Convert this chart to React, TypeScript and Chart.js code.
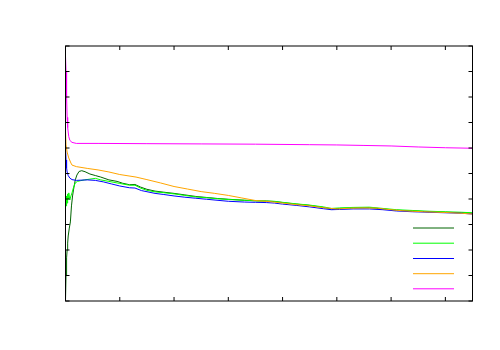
import React, { useEffect, useRef } from "react";
import { Chart, registerables } from "chart.js";

Chart.register(...registerables);

// x ticks and y ticks
const xTicks = [0, 100, 200, 300, 400, 500, 600, 700];
const yTicks = [0, 1, 2, 3, 4, 5, 6, 7, 8, 9, 10];

const darkGreenX = [0, 1, 2, 3, 4, 5, 7, 9, 11, 13, 15, 18, 21, 25, 30, 36, 45, 55, 65, 80, 95, 105, 118, 128, 138, 150, 165, 180, 200, 220, 240, 260, 280, 300, 330, 350, 370, 385, 400, 425, 450, 475, 490, 505, 530, 560, 585, 610, 640, 670, 700, 730, 750];
const darkGreenY = [0.04, 1.02, 1.69, 2.0, 2.27, 2.55, 2.86, 3.1, 3.73, 4.12, 4.39, 4.75, 4.94, 5.08, 5.11, 5.07, 4.98, 4.92, 4.86, 4.75, 4.69, 4.62, 4.56, 4.57, 4.47, 4.38, 4.31, 4.27, 4.22, 4.16, 4.1, 4.06, 4.02, 3.99, 3.95, 3.93, 3.92, 3.9, 3.86, 3.8, 3.75, 3.67, 3.61, 3.63, 3.65, 3.66, 3.61, 3.56, 3.53, 3.5, 3.48, 3.46, 3.44];

const lightGreenX = [0, 1, 2, 3, 4, 5, 6, 8, 10, 12, 15, 18, 22, 28, 35, 45, 55, 65, 80, 100, 118, 128, 138, 150, 165, 180, 200, 220, 240, 260, 280, 300, 330, 350, 370, 385, 400, 425, 450, 475, 490, 505, 530, 560, 585, 610, 640, 670, 700, 730, 750];
const lightGreenY = [3.96, 3.73, 4.12, 3.84, 4.2, 4.0, 4.24, 3.96, 4.12, 4.24, 4.47, 4.63, 4.69, 4.72, 4.75, 4.78, 4.81, 4.75, 4.69, 4.61, 4.54, 4.54, 4.43, 4.34, 4.28, 4.25, 4.2, 4.14, 4.08, 4.05, 4.01, 3.98, 3.95, 3.93, 3.92, 3.91, 3.87, 3.81, 3.76, 3.69, 3.63, 3.65, 3.67, 3.68, 3.63, 3.58, 3.55, 3.52, 3.5, 3.48, 3.46];

const blueX = [0, 1, 2, 3, 5, 8, 12, 20, 40, 55, 70, 85, 100, 118, 128, 140, 165, 180, 200, 220, 240, 260, 300, 330, 350, 370, 385, 400, 425, 450, 475, 490, 505, 530, 560, 585, 610, 640, 670, 700, 730, 750];
const blueY = [6.04, 5.53, 5.22, 5.06, 4.92, 4.82, 4.76, 4.73, 4.75, 4.73, 4.67, 4.59, 4.51, 4.44, 4.43, 4.33, 4.22, 4.18, 4.12, 4.07, 4.03, 3.99, 3.91, 3.88, 3.87, 3.86, 3.84, 3.8, 3.75, 3.69, 3.62, 3.58, 3.59, 3.61, 3.61, 3.58, 3.53, 3.5, 3.48, 3.46, 3.44, 3.41];

const orangeX = [0, 1, 3, 6, 10, 12, 20, 40, 60, 80, 100, 130, 150, 175, 200, 225, 250, 275, 300, 325, 350, 375, 400, 425, 450, 475, 500, 525, 550, 575, 590, 620, 660, 700, 730, 750];
const orangeY = [6.71, 6.12, 5.84, 5.61, 5.41, 5.33, 5.27, 5.2, 5.14, 5.06, 4.96, 4.86, 4.76, 4.63, 4.49, 4.39, 4.29, 4.22, 4.14, 4.04, 3.94, 3.9, 3.84, 3.78, 3.73, 3.66, 3.61, 3.64, 3.65, 3.64, 3.6, 3.54, 3.5, 3.47, 3.44, 3.41];

const magentaX = [0, 1, 2, 3, 4, 6, 8, 12, 20, 60, 150, 250, 350, 450, 500, 550, 600, 650, 700, 750];
const magentaY = [9.6, 9.0, 8.0, 7.2, 6.8, 6.45, 6.3, 6.22, 6.18, 6.18, 6.17, 6.16, 6.15, 6.13, 6.12, 6.1, 6.08, 6.04, 6.01, 5.99];

const seriesColors = ["#006400", "#00ff00", "#0000ff", "#ffa500", "#ff00ff"];

function pts(xs: number[], ys: number[]) {
  return xs.map((x, i) => ({ x, y: ys[i] }));
}

const framePlugin = {
  id: "frameTicks",
  afterDraw(chart: any) {
    const ctx = chart.ctx;
    const { left, right, top, bottom } = chart.chartArea;
    const xs = chart.scales.x;
    const ys = chart.scales.y;
    ctx.save();
    ctx.strokeStyle = "#000000";
    ctx.lineWidth = 1;
    const tl = 4;
    ctx.beginPath();
    for (const v of yTicks) {
      const py = ys.getPixelForValue(v);
      ctx.moveTo(left, py);
      ctx.lineTo(left + tl, py);
      ctx.moveTo(right, py);
      ctx.lineTo(right - tl, py);
    }
    for (const v of xTicks) {
      const px = xs.getPixelForValue(v);
      ctx.moveTo(px, bottom);
      ctx.lineTo(px, bottom - tl);
      ctx.moveTo(px, top);
      ctx.lineTo(px, top + tl);
    }
    ctx.stroke();
    ctx.strokeRect(left, top, right - left, bottom - top);
    // legend samples
    const lx0 = 413;
    const lx1 = 454;
    const ly = [228, 243.2, 258.5, 273.7, 288.8];
    seriesColors.forEach((c, i) => {
      ctx.beginPath();
      ctx.strokeStyle = c;
      ctx.moveTo(lx0, ly[i]);
      ctx.lineTo(lx1, ly[i]);
      ctx.stroke();
    });
    ctx.restore();
  },
};

export default function App() {
  const ref = useRef<HTMLCanvasElement | null>(null);
  useEffect(() => {
    document.body.style.margin = "0";
    const canvas = ref.current;
    if (!canvas) return;
    const mk = (xs: number[], ys: number[], i: number) => ({
      data: pts(xs, ys),
      borderColor: seriesColors[i],
      borderWidth: 1,
      pointRadius: 0,
      tension: 0,
      fill: false,
      order: 5 - i,
    });
    const chart = new Chart(canvas, {
      type: "line",
      data: {
        datasets: [
          mk(darkGreenX, darkGreenY, 0),
          mk(lightGreenX, lightGreenY, 1),
          mk(blueX, blueY, 2),
          mk(orangeX, orangeY, 3),
          mk(magentaX, magentaY, 4),
        ],
      },
      options: {
        responsive: false,
        animation: false,
        parsing: true,
        layout: { padding: { left: 65.5, top: 46, right: 27.5, bottom: 49 } },
        plugins: { legend: { display: false }, tooltip: { enabled: false } },
        scales: {
          x: { type: "linear", min: 0, max: 750, display: false },
          y: { type: "linear", min: 0, max: 10, display: false },
        },
      },
      plugins: [framePlugin],
    });
    return () => chart.destroy();
  }, []);
  return (
    <div style={{ position: "absolute", left: 0, top: 0, width: 500, height: 350, background: "#ffffff" }}>
      <canvas ref={ref} width={500} height={350} style={{ width: 500, height: 350 }} />
    </div>
  );
}
